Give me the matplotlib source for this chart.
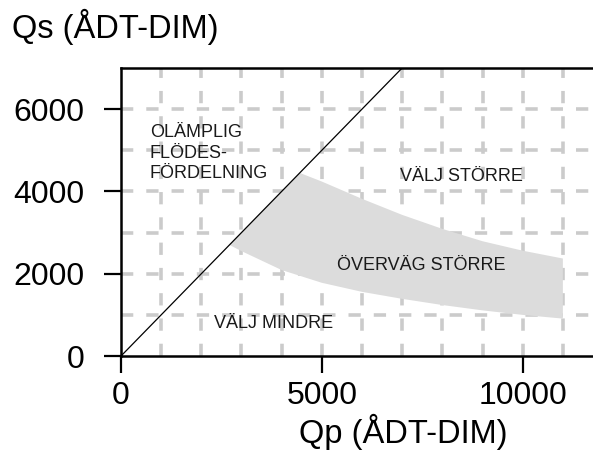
import numpy as np
import matplotlib
matplotlib.use('Agg')
import matplotlib.pyplot as plt

# band boundaries
upper_x = [4450, 5000, 6000, 7000, 8000, 9000, 10000, 11000]
upper_y = [4450, 4240, 3820, 3430, 3090, 2790, 2560, 2370]
lower_x = [2700, 3000, 4000, 5000, 6000, 7000, 8000, 9000, 10000, 11000]
lower_y = [2700, 2550, 2090, 1780, 1560, 1390, 1240, 1110, 1000, 910]

# the 1:1 line
line_x = [0, 7000]
line_y = [0, 7000]

x_ticks = [0, 5000, 10000]
y_ticks = [0, 2000, 4000, 6000]

plt.rcParams['font.family'] = ['Liberation Sans', 'DejaVu Sans']

fig = plt.figure(figsize=(5.93, 4.53), dpi=100)
ax = fig.add_axes([0.204, 0.214, 0.796, 0.636])

grid_kw = dict(color='#cbcbcb', lw=2.6, linestyle=(0, (3.4, 3.6)), zorder=1)
for gx in range(1000, 12000, 1000):
    ax.axvline(gx, **grid_kw)
for gy in range(1000, 7000, 1000):
    ax.axhline(gy, **grid_kw)

poly_x = lower_x + upper_x[::-1]
poly_y = lower_y + upper_y[::-1]
ax.fill(poly_x, poly_y, color='#dcdcdc', lw=0, zorder=2)

ax.plot(line_x, line_y, color='black', lw=0.9, zorder=3)

ax.set_xlim(0, 11750)
ax.set_ylim(0, 7000)
ax.set_xticks(x_ticks)
ax.set_yticks(y_ticks)
ax.tick_params(labelsize=23, length=12, width=1.6, pad=6)
ax.tick_params(axis='y', pad=14)
for s in ['left', 'bottom', 'top']:
    ax.spines[s].set_linewidth(1.8)
ax.spines['right'].set_visible(False)

ax.set_xlabel('Qp (ÅDT-DIM)', fontsize=23.5, x=0.597, labelpad=2)
fig.text(0.02, 0.94, 'Qs (ÅDT-DIM)', fontsize=23.5, ha='left', va='center')

txt = dict(fontsize=13, color='#1a1a1a', zorder=4)
ax.text(720, 4930, 'OLÄMPLIG\nFLÖDES-\nFÖRDELNING', ha='left', va='center',
        linespacing=1.27, **txt)
ax.text(8480, 4370, 'VÄLJ STÖRRE', ha='center', va='center', **txt)
ax.text(7470, 2210, 'ÖVERVÄG STÖRRE', ha='center', va='center', **txt)
ax.text(3800, 800, 'VÄLJ MINDRE', ha='center', va='center', **txt)

fig.savefig('out.png', dpi=100)
